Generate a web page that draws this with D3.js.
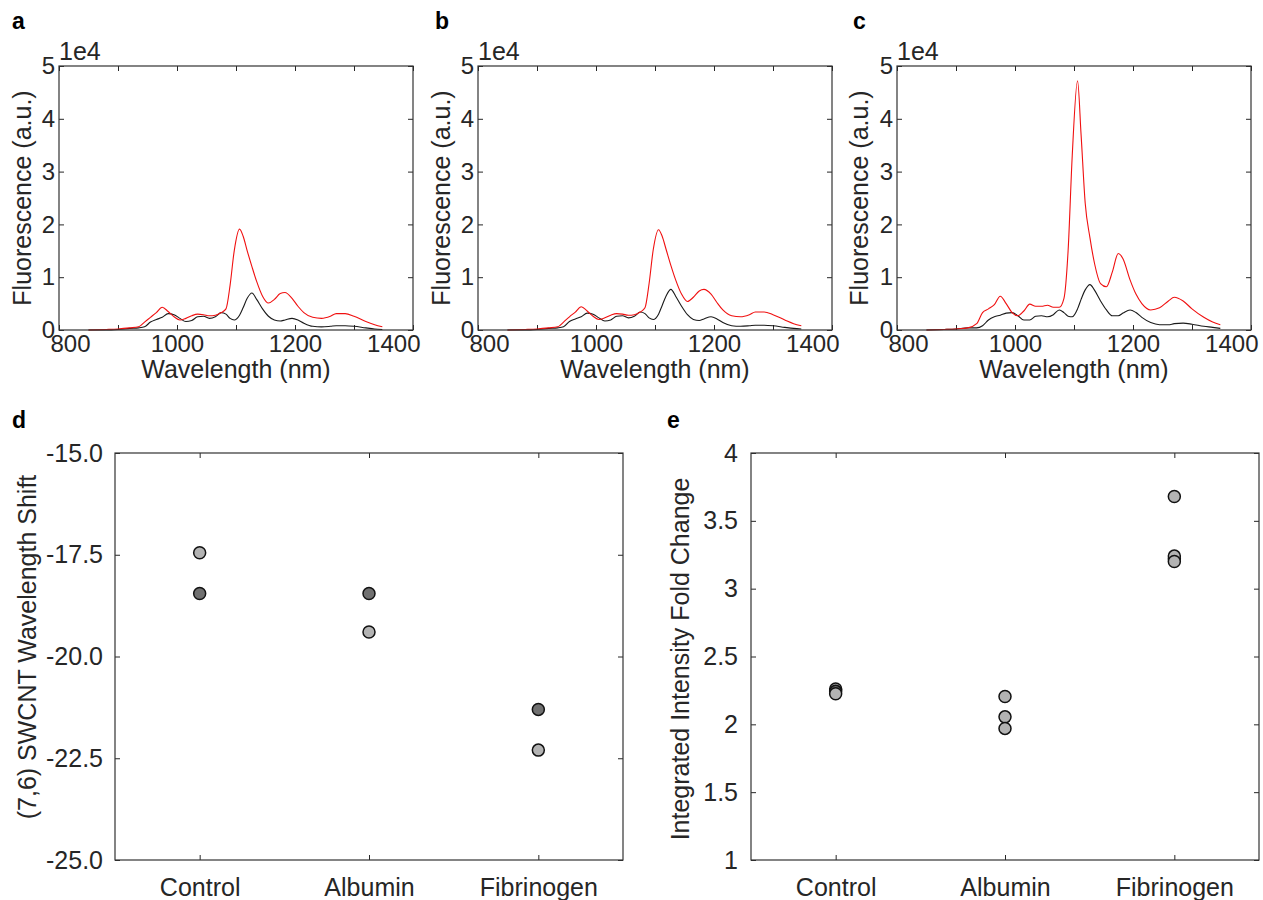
<!DOCTYPE html>
<html lang="en">
<head>
    <meta charset="UTF-8">
    <title>SWCNT spectra and shifts</title>
    <style>
        body { margin: 0; background: #fff; }
        svg text { font-family: "Liberation Sans", Arial, Helvetica, sans-serif; fill: #262626; }
        .axis path { display: none; }
        .axis line { stroke: #262626; stroke-width: 1px; }
        .axis text { font-size: 25px; }
        .spec .axis text { font-size: 24px; }
        .frame { fill: none; stroke: #333; stroke-width: 1.2px; }
        .panel-label { font-weight: bold; font-size: 23px; fill: #000; }
        .axis-label { font-size: 25px; }
    </style>
    <script src="https://d3js.org/d3.v7.min.js"></script>
</head>
<body>
    <script>

        // wavelength grid (nm) shared by the spectra
        const wavelength = [850, 880, 900, 920, 935, 945, 955, 965, 975, 985, 995, 1005, 1015, 1025, 1035, 1045, 1055, 1065, 1075, 1083, 1090, 1097, 1106, 1112, 1119, 1127, 1135, 1145, 1155, 1165, 1175, 1183, 1195, 1205, 1215, 1230, 1245, 1260, 1270, 1285, 1300, 1320, 1335, 1348];

        // fluorescence in units of 1e4
        const redA   = [0, 0.01, 0.02, 0.04, 0.06, 0.15, 0.24, 0.33, 0.43, 0.35, 0.25, 0.19, 0.22, 0.27, 0.30, 0.29, 0.27, 0.28, 0.33, 0.40, 0.85, 1.50, 1.91, 1.78, 1.50, 1.20, 0.92, 0.64, 0.51, 0.58, 0.69, 0.71, 0.60, 0.45, 0.33, 0.24, 0.22, 0.26, 0.31, 0.31, 0.26, 0.16, 0.10, 0.06];
        const blackA = [0, 0, 0.01, 0.03, 0.04, 0.06, 0.15, 0.20, 0.24, 0.31, 0.29, 0.22, 0.16, 0.18, 0.25, 0.26, 0.22, 0.25, 0.33, 0.30, 0.22, 0.19, 0.28, 0.42, 0.60, 0.70, 0.58, 0.40, 0.26, 0.19, 0.17, 0.19, 0.22, 0.19, 0.13, 0.07, 0.06, 0.07, 0.08, 0.08, 0.07, 0.04, 0.02, 0.01];
        const redB   = [0, 0.01, 0.02, 0.04, 0.06, 0.15, 0.25, 0.34, 0.44, 0.36, 0.26, 0.20, 0.23, 0.28, 0.31, 0.30, 0.28, 0.29, 0.34, 0.42, 0.88, 1.52, 1.90, 1.78, 1.52, 1.22, 0.95, 0.68, 0.54, 0.62, 0.74, 0.77, 0.68, 0.52, 0.38, 0.27, 0.25, 0.29, 0.34, 0.34, 0.29, 0.19, 0.12, 0.08];
        const blackB = [0, 0, 0.01, 0.03, 0.04, 0.06, 0.16, 0.21, 0.25, 0.32, 0.30, 0.23, 0.17, 0.19, 0.26, 0.27, 0.23, 0.26, 0.34, 0.31, 0.23, 0.20, 0.30, 0.46, 0.65, 0.77, 0.64, 0.45, 0.29, 0.20, 0.18, 0.21, 0.25, 0.21, 0.14, 0.08, 0.07, 0.08, 0.09, 0.09, 0.08, 0.05, 0.03, 0.02];
        const redC   = [0, 0.01, 0.02, 0.04, 0.12, 0.33, 0.40, 0.48, 0.64, 0.50, 0.33, 0.27, 0.36, 0.49, 0.45, 0.45, 0.47, 0.43, 0.43, 0.60, 1.50, 3.30, 4.72, 3.70, 2.40, 1.75, 1.25, 0.88, 0.82, 1.10, 1.45, 1.35, 0.95, 0.68, 0.50, 0.38, 0.42, 0.55, 0.62, 0.55, 0.40, 0.24, 0.15, 0.10];
        const blackC = [0, 0.01, 0.02, 0.04, 0.04, 0.08, 0.19, 0.25, 0.28, 0.32, 0.33, 0.27, 0.19, 0.19, 0.26, 0.27, 0.25, 0.29, 0.38, 0.33, 0.26, 0.25, 0.40, 0.58, 0.76, 0.86, 0.75, 0.55, 0.38, 0.27, 0.27, 0.32, 0.38, 0.33, 0.24, 0.14, 0.10, 0.10, 0.12, 0.13, 0.11, 0.07, 0.05, 0.03];

        const xTicksNm = [800, 900, 1000, 1100, 1200, 1300, 1400];
        const yTicksFl = [0, 1, 2, 3, 4, 5];

        // bottom panels
        const categories = ["Control", "Albumin", "Fibrinogen"];
        const shiftLight = [-17.45, -19.4, -22.3];
        const shiftDark  = [-18.45, -18.45, -21.3];
        const shiftTicks = [-15, -17.5, -20, -22.5, -25];

        // first light point of each group is drawn under the dark one, the rest on top
        const foldLight = [[2.26, 2.225], [2.205, 2.055, 1.97], [3.68, 3.24, 3.20]];
        const foldDark  = [[2.243], [], [3.22]];
        const foldTicks = [1, 1.5, 2, 2.5, 3, 3.5, 4];

        const svg = d3.select("body").append("svg")
            .attr("width", 1263).attr("height", 900);

        // ---------- spectra (a, b, c) ----------
        const spectra = [
            { label: "a", red: redA, black: blackA, left: 59, tag: 12, ylab: 31 },
            { label: "b", red: redB, black: blackB, left: 478, tag: 435, ylab: 450 },
            { label: "c", red: redC, black: blackC, left: 897, tag: 853, ylab: 868 }
        ];
        const specW = 354, specTop = 66, specH = 264;

        spectra.forEach(p => {
            const x = d3.scaleLinear().domain([800, 1400]).range([0, specW]);
            const y = d3.scaleLinear().domain([0, 5]).range([specH, 0]);
            const g = svg.append("g").attr("class", "spec")
                .attr("transform", `translate(${p.left},${specTop})`);

            const xb = g.append("g").attr("class", "axis")
                .attr("transform", `translate(0,${specH})`)
                .call(d3.axisBottom(x).tickValues(xTicksNm).tickSize(-5).tickPadding(5)
                    .tickFormat(d => d % 200 === 0 ? d : ""));
            // end labels sit pulled inward, as in the original figure
            xb.selectAll(".tick text")
                .attr("text-anchor", d => d === 800 ? "start" : d === 1400 ? "end" : "middle")
                .attr("dx", d => d === 800 ? -9 : d === 1400 ? 7 : 0);

            g.append("g").attr("class", "axis")
                .call(d3.axisTop(x).tickValues(xTicksNm).tickSize(-5).tickFormat(""));
            g.append("g").attr("class", "axis")
                .call(d3.axisLeft(y).tickValues(yTicksFl).tickSize(-5).tickPadding(4)
                    .tickFormat(d => d));
            g.append("g").attr("class", "axis")
                .attr("transform", `translate(${specW},0)`)
                .call(d3.axisRight(y).tickValues(yTicksFl).tickSize(-5).tickFormat(""));

            const line = vals => d3.line()
                .x((d, i) => x(wavelength[i]))
                .y(d => y(d))
                .curve(d3.curveMonotoneX)(vals);

            g.append("path").attr("d", line(p.black))
                .attr("fill", "none").attr("stroke", "#1a1a1a").attr("stroke-width", 1.1);
            g.append("path").attr("d", line(p.red))
                .attr("fill", "none").attr("stroke", "#f01010").attr("stroke-width", 1.1);

            g.append("rect").attr("class", "frame")
                .attr("width", specW).attr("height", specH);

            g.append("text").attr("x", 0).attr("y", -6).attr("font-size", 25).text("1e4");
            g.append("text").attr("class", "axis-label")
                .attr("x", specW / 2).attr("y", 378 - specTop).attr("text-anchor", "middle")
                .text("Wavelength (nm)");

            svg.append("text").attr("class", "axis-label")
                .attr("transform", `translate(${p.ylab},${specTop + specH / 2}) rotate(-90)`)
                .attr("text-anchor", "middle").text("Fluorescence (a.u.)");
            svg.append("text").attr("class", "panel-label")
                .attr("x", p.tag).attr("y", 29).text(p.label);
        });

        // ---------- scatter panels (d, e) ----------
        const scTop = 453, scH = 407, scW = 508;

        function scatterPanel(opts) {
            const x = d3.scalePoint().domain(categories).range([0, scW]).padding(0.5);
            const y = d3.scaleLinear().domain(opts.domain).range([scH, 0]);
            const g = svg.append("g").attr("transform", `translate(${opts.left},${scTop})`);

            g.append("g").attr("class", "axis")
                .attr("transform", `translate(0,${scH})`)
                .call(d3.axisBottom(x).tickSize(-5).tickPadding(18));
            g.append("g").attr("class", "axis")
                .call(d3.axisTop(x).tickSize(-5).tickFormat(""));
            g.append("g").attr("class", "axis")
                .call(d3.axisLeft(y).tickValues(opts.ticks).tickSize(-5).tickPadding(opts.pad)
                    .tickFormat(opts.format));
            g.append("g").attr("class", "axis")
                .attr("transform", `translate(${scW},0)`)
                .call(d3.axisRight(y).tickValues(opts.ticks).tickSize(-5).tickFormat(""));

            opts.series.forEach(s => {
                g.append("g").selectAll("circle")
                    .data(s.points).join("circle")
                    .attr("cx", d => x(d.cat))
                    .attr("cy", d => y(d.v))
                    .attr("r", 6)
                    .attr("fill", s.fill)
                    .attr("stroke", "#111")
                    .attr("stroke-width", 1.5);
            });

            g.append("rect").attr("class", "frame").attr("width", scW).attr("height", scH);

            svg.append("text").attr("class", "axis-label")
                .attr("font-size", 26)
                .attr("transform", `translate(${opts.ylab},${opts.ymid}) rotate(-90)`)
                .attr("text-anchor", "middle").text(opts.title);
            svg.append("text").attr("class", "panel-label")
                .attr("x", opts.tag).attr("y", 428).text(opts.label);
        }

        const pts = (arr, from, to) => arr.flatMap((vals, i) =>
            vals.slice(from, to).map(v => ({ cat: categories[i], v })));

        scatterPanel({
            label: "d", tag: 12, left: 115, domain: [-25, -15], ticks: shiftTicks, pad: 12,
            format: d => d.toFixed(1), title: "(7,6) SWCNT Wavelength Shift", ylab: 36, ymid: 647,
            series: [
                { fill: "#b3b3b3", points: shiftLight.map((v, i) => ({ cat: categories[i], v })) },
                { fill: "#707070", points: shiftDark.map((v, i) => ({ cat: categories[i], v })) }
            ]
        });

        scatterPanel({
            label: "e", tag: 667, left: 751, domain: [1, 4], ticks: foldTicks, pad: 13,
            format: d => d, title: "Integrated Intensity Fold Change", ylab: 689, ymid: 659,
            series: [
                { fill: "#b3b3b3", points: pts(foldLight, 0, 1) },
                { fill: "#666666", points: pts(foldDark, 0) },
                { fill: "#b3b3b3", points: pts(foldLight, 1) }
            ]
        });
    </script>
</body>
</html>
